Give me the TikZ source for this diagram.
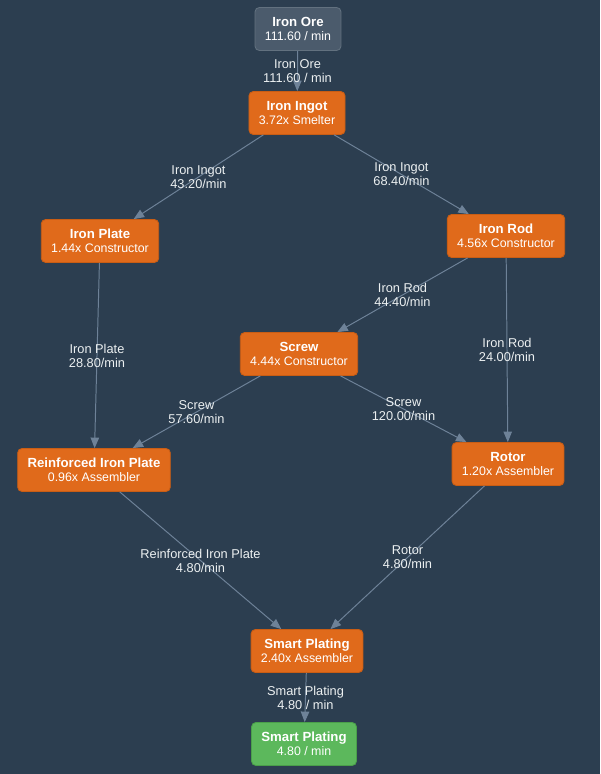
\documentclass[tikz,border=0pt]{standalone}
\usepackage{fontspec}
\setmainfont{Liberation Sans}
\usetikzlibrary{arrows.meta}
\definecolor{bgblue}{HTML}{2C3E50}
\definecolor{machine}{HTML}{E06A1B}
\definecolor{machineline}{HTML}{C95D14}
\definecolor{rawgray}{HTML}{4B5B6C}
\definecolor{rawline}{HTML}{62717F}
\definecolor{outgreen}{HTML}{5CB85C}
\definecolor{outline}{HTML}{4A9F4A}
\definecolor{flow}{HTML}{6E8298}
\definecolor{labeltext}{HTML}{ECF0F1}
\newcommand{\titlefont}{\fontsize{9.4}{10}\selectfont\bfseries}

\begin{document}
\begin{tikzpicture}[x=0.025cm, y=-0.025cm,
  box/.style={rounded corners=3pt, draw=machineline, fill=machine, text=white, align=center,
    font=\fontsize{8.8}{10}\selectfont, minimum height=30.5pt, inner xsep=7pt, line width=0.6pt},
  rawbox/.style={box, draw=rawline, fill=rawgray},
  outbox/.style={box, draw=outline, fill=outgreen},
  rate/.style={text=labeltext, align=center, font=\fontsize{9.1}{10}\selectfont, inner sep=1pt},
  feed/.style={draw=flow, line width=0.7pt, -{Triangle[length=7.5pt, width=6pt]}}]
  \fill[bgblue] (0,0) rectangle (600,774);
  \useasboundingbox (0,0) rectangle (600,774);

  % machines
  \node[rawbox] (ore) at (298,29) {{\titlefont Iron Ore}\\111.60 / min};
  \node[box] (ingot) at (297,113) {{\titlefont Iron Ingot}\\3.72x Smelter};
  \node[box] (plate) at (100,241) {{\titlefont Iron Plate}\\1.44x Constructor};
  \node[box] (rod) at (506,236) {{\titlefont Iron Rod}\\4.56x Constructor};
  \node[box] (screw) at (299,354) {{\titlefont Screw}\\4.44x Constructor};
  \node[box] (rip) at (94,470) {{\titlefont Reinforced Iron Plate}\\0.96x Assembler};
  \node[box] (rotor) at (508,464) {{\titlefont Rotor}\\1.20x Assembler};
  \node[box] (smart) at (307,651) {{\titlefont Smart Plating}\\2.40x Assembler};
  \node[outbox] (out) at (304,744) {{\titlefont Smart Plating}\\4.80 / min};

  % flows
  \draw[feed] (ore) -- node[rate] (f1) {Iron Ore\\111.60 / min} (ingot);
  \draw[feed] (ingot) -- node[rate] (f2) {Iron Ingot\\43.20/min} (plate);
  \draw[feed] (ingot) -- node[rate] (f3) {Iron Ingot\\68.40/min} (rod);
  \draw[feed] (rod) -- node[rate] (f4) {Iron Rod\\44.40/min} (screw);
  \draw[feed] (rod) -- node[rate] (f5) {Iron Rod\\24.00/min} (rotor);
  \draw[feed] (plate) -- node[rate] (f6) {Iron Plate\\28.80/min} (rip);
  \draw[feed] (screw) -- node[rate] (f7) {Screw\\57.60/min} (rip);
  \draw[feed] (screw) -- node[rate] (f8) {Screw\\120.00/min} (rotor);
  \draw[feed] (rip) -- node[rate] (f9) {Reinforced Iron Plate\\4.80/min} (smart);
  \draw[feed] (rotor) -- node[rate] (f10) {Rotor\\4.80/min} (smart);
  \draw[feed] (smart) -- node[rate] (f11) {Smart Plating\\4.80 / min} (out);
\end{tikzpicture}
\end{document}
